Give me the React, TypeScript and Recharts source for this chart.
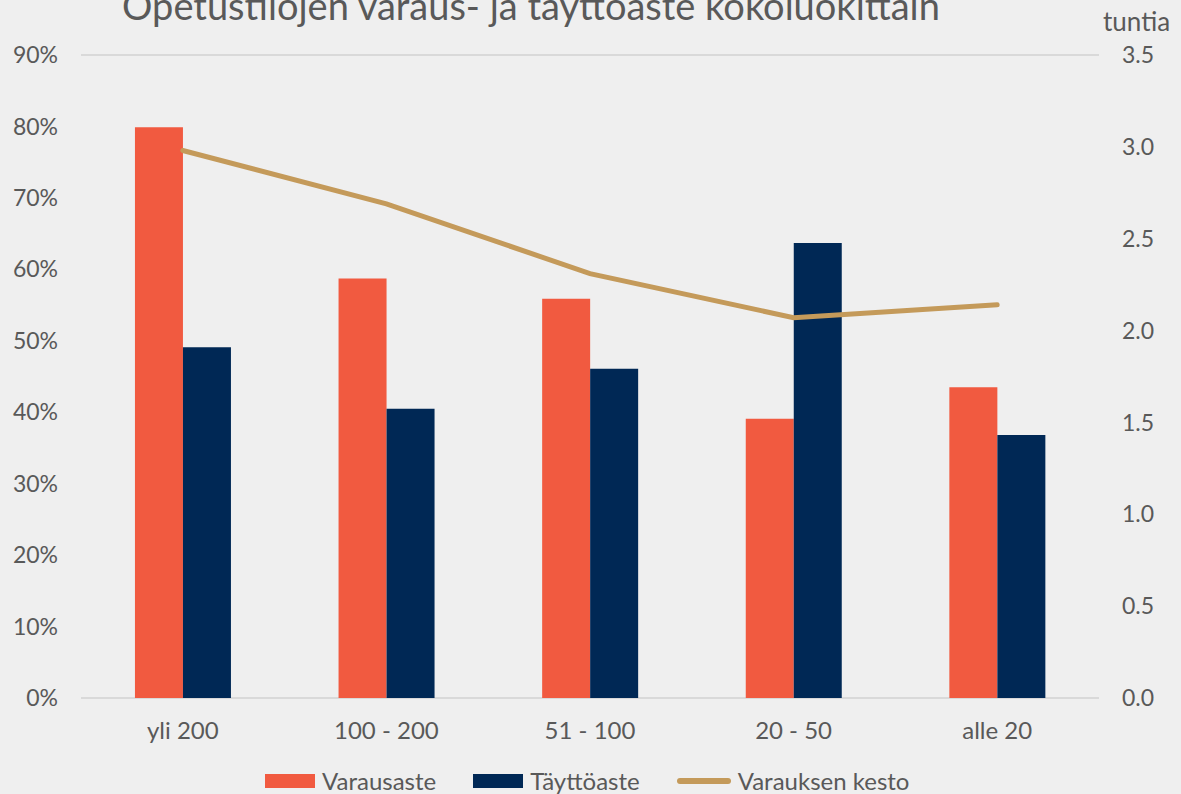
import React from 'react';
import {
  ComposedChart,
  Bar,
  Line,
  XAxis,
  YAxis,
  CartesianGrid,
  Legend,
} from 'recharts';

// Size classes (categories)
const categories = ['yli 200', '100 - 200', '51 - 100', '20 - 50', 'alle 20'];
// Varausaste, % of time booked
const varausaste = [79.9, 58.7, 55.9, 39.1, 43.5];
// Täyttöaste, % of seats used
const tayttoaste = [49.1, 40.5, 46.1, 63.7, 36.8];
// Varauksen kesto, hours
const kesto = [2.98, 2.69, 2.31, 2.07, 2.14];

const leftTicks = [0, 10, 20, 30, 40, 50, 60, 70, 80, 90];
const rightTicks = [0, 0.5, 1, 1.5, 2, 2.5, 3, 3.5];

const FONT = 'Lato, "Open Sans", sans-serif';
const TEXT = '#595959';
const RED = '#f15a40';
const NAVY = '#002855';
const TAN = '#c49a5a';

const data = categories.map((c, i) => ({
  name: c,
  varausaste: varausaste[i],
  tayttoaste: tayttoaste[i],
  kesto: kesto[i],
}));

const legendItems = [
  { label: 'Varausaste', color: RED, kind: 'bar' },
  { label: 'Täyttöaste', color: NAVY, kind: 'bar' },
  { label: 'Varauksen kesto', color: TAN, kind: 'line' },
];

const ChartLegend = () => (
  <div
    style={{
      display: 'flex',
      alignItems: 'center',
      gap: 37,
      fontFamily: FONT,
      fontSize: 24,
      lineHeight: '26px',
      color: TEXT,
      paddingLeft: 265,
    }}
  >
    {legendItems.map((it) => (
      <div key={it.label} style={{ display: 'flex', alignItems: 'center', gap: 7 }}>
        {it.kind === 'bar' ? (
          <span style={{ display: 'inline-block', width: 50, height: 14, background: it.color }} />
        ) : (
          <span
            style={{
              display: 'inline-block',
              width: 54,
              height: 6,
              borderRadius: 3,
              background: it.color,
            }}
          />
        )}
        <span>{it.label}</span>
      </div>
    ))}
  </div>
);

export default function App() {
  return (
    <div
      style={{
        position: 'fixed',
        left: 0,
        top: 0,
        width: 1181,
        height: 794,
        background: '#efefef',
        overflow: 'hidden',
      }}
    >
      <div
        style={{
          position: 'absolute',
          left: 0,
          width: 1062,
          top: -14,
          textAlign: 'center',
          fontFamily: FONT,
          fontSize: 38,
          lineHeight: '38px',
          color: TEXT,
          whiteSpace: 'nowrap',
        }}
      >
        Opetustilojen varaus- ja täyttöaste kokoluokittain
      </div>
      <div
        style={{
          position: 'absolute',
          left: 1103,
          top: 6,
          fontFamily: FONT,
          fontSize: 26,
          lineHeight: '30px',
          color: TEXT,
        }}
      >
        tuntia
      </div>
      <ComposedChart
        width={1181}
        height={794}
        data={data}
        margin={{ top: 55, right: 0, left: 0, bottom: 0 }}
        barCategoryGap="26.5%"
        barGap={0}
      >
        <CartesianGrid vertical={false} stroke="#d9d9d9" strokeWidth={2} />
        <XAxis
          dataKey="name"
          axisLine={false}
          tickLine={false}
          tickSize={0}
          tickMargin={24}
          height={70}
          tick={{ fill: TEXT, fontSize: 24, fontFamily: FONT }}
        />
        <YAxis
          yAxisId="left"
          domain={[0, 90]}
          ticks={leftTicks}
          tickFormatter={(v) => `${v}%`}
          axisLine={false}
          tickLine={false}
          tickSize={0}
          tickMargin={23}
          width={81}
          tick={{ fill: TEXT, fontSize: 23, fontFamily: FONT }}
        />
        <YAxis
          yAxisId="right"
          orientation="right"
          domain={[0, 3.5]}
          ticks={rightTicks}
          tickFormatter={(v) => Number(v).toFixed(1)}
          axisLine={false}
          tickLine={false}
          tickSize={0}
          tickMargin={23}
          width={82}
          tick={{ fill: TEXT, fontSize: 23, fontFamily: FONT }}
        />
        <Legend verticalAlign="bottom" height={26} content={<ChartLegend />} />
        <Bar yAxisId="left" dataKey="varausaste" name="Varausaste" fill={RED} isAnimationActive={false} />
        <Bar yAxisId="left" dataKey="tayttoaste" name="Täyttöaste" fill={NAVY} isAnimationActive={false} />
        <Line
          yAxisId="right"
          dataKey="kesto"
          name="Varauksen kesto"
          stroke={TAN}
          strokeWidth={5}
          strokeLinecap="round"
          dot={false}
          activeDot={false}
          isAnimationActive={false}
        />
      </ComposedChart>
    </div>
  );
}
